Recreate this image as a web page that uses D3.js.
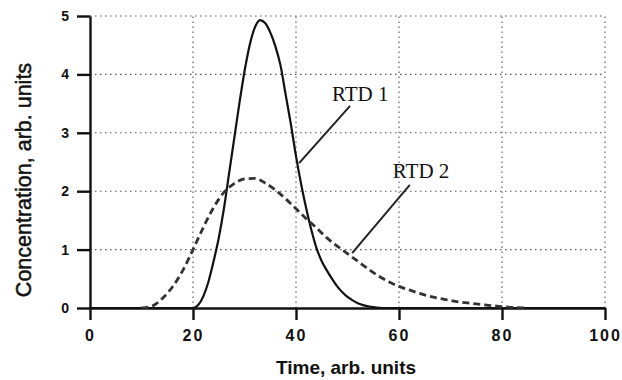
<!DOCTYPE html>
<html>
<head>
<meta charset="utf-8">
<script src="https://cdn.jsdelivr.net/npm/d3@7/dist/d3.min.js"></script>
<style>
  html, body { margin: 0; padding: 0; background: #fff; }
  svg { display: block; }
</style>
</head>
<body>
<svg id="chart" width="622" height="380"></svg>
<script>
// ---- data ----
const xTicks = [0, 20, 40, 60, 80, 100];
const yTicks = [0, 1, 2, 3, 4, 5];
const xLabel = "Time, arb. units";
const yLabel = "Concentration, arb. units";

const rtd1X = [0, 20, 21, 22, 23, 24, 25, 26, 27, 28, 29, 30, 31, 32, 33, 34, 35, 36, 37, 38, 39, 40, 41, 42, 43, 44, 45, 46, 47, 48, 49, 50, 51, 52, 53, 54, 55, 57, 100];
const rtd1Y = [0, 0, 0.05, 0.2, 0.45, 0.8, 1.2, 1.7, 2.3, 2.9, 3.5, 4.05, 4.5, 4.8, 4.93, 4.88, 4.72, 4.48, 4.15, 3.65, 3.15, 2.6, 2.12, 1.7, 1.33, 1.02, 0.8, 0.64, 0.5, 0.37, 0.27, 0.19, 0.13, 0.08, 0.05, 0.03, 0.015, 0, 0];

const rtd2X = [10, 12, 14, 16, 18, 20, 22, 24, 26, 28, 30, 32, 34, 36, 38, 40, 42, 44, 46, 48, 50, 52, 54, 56, 58, 60, 62, 64, 66, 68, 70, 72, 74, 76, 78, 80, 82, 85, 100];
const rtd2Y = [0, 0.03, 0.16, 0.36, 0.64, 1.0, 1.38, 1.72, 1.98, 2.13, 2.21, 2.22, 2.14, 2.02, 1.87, 1.7, 1.53, 1.37, 1.2, 1.06, 0.93, 0.8, 0.67, 0.55, 0.45, 0.37, 0.31, 0.25, 0.2, 0.16, 0.13, 0.1, 0.08, 0.06, 0.04, 0.025, 0.01, 0, 0];

const seriesNames = ["RTD 1", "RTD 2"];
// label anchor (data units) and leader line start / end (data units)
const labelPos = [[47, 3.54], [58.8, 2.23]];
const leaderFrom = [[50.5, 3.46], [62.1, 2.11]];
const leaderTo = [[40.6, 2.48], [50.9, 0.94]];

// ---- drawing ----
const svg = d3.select("#chart");
const x = d3.scaleLinear().domain([0, 100]).range([90, 605]);
const y = d3.scaleLinear().domain([0, 5]).range([308, 16]);

// grid
const grid = svg.append("g").attr("stroke", "#555").attr("stroke-width", 1.1)
  .attr("stroke-dasharray", "1.5,3.5").attr("fill", "none");
grid.selectAll("line.h").data(yTicks.filter(d => d > 0)).enter().append("line")
  .attr("x1", x(0)).attr("x2", x(100)).attr("y1", d => y(d)).attr("y2", d => y(d));
grid.selectAll("line.v").data(xTicks.filter(d => d > 0)).enter().append("line")
  .attr("y1", y(0)).attr("y2", y(5)).attr("x1", d => x(d)).attr("x2", d => x(d));

// axes
const xAxis = svg.append("g").attr("transform", `translate(0,${y(0)})`)
  .call(d3.axisBottom(x).tickValues(xTicks).tickFormat(d3.format("d"))
    .tickSize(12).tickPadding(10).tickSizeOuter(0));
const yAxis = svg.append("g").attr("transform", `translate(${x(0)},0)`)
  .call(d3.axisLeft(y).tickValues(yTicks).tickFormat(d3.format("d"))
    .tickSize(13).tickPadding(8).tickSizeOuter(0));
[xAxis, yAxis].forEach(a => {
  a.select(".domain").attr("stroke", "#111").attr("stroke-width", 2.4);
  a.selectAll(".tick line").attr("stroke", "#111").attr("stroke-width", 2.4);
  a.selectAll(".tick text").attr("fill", "#111")
    .attr("font-family", "'Liberation Sans', Arial, sans-serif").attr("font-weight", "bold");
});
xAxis.selectAll(".tick text").attr("font-size", 16).attr("letter-spacing", "2px");
yAxis.selectAll(".tick text").attr("font-size", 14);

// axis titles
svg.append("text").attr("x", 346).attr("y", 374).attr("text-anchor", "middle")
  .attr("font-family", "'Liberation Sans', Arial, sans-serif").attr("font-size", 19)
  .attr("font-weight", "bold").attr("fill", "#111").text(xLabel);
svg.append("text").attr("transform", "translate(31,180) rotate(-90)").attr("text-anchor", "middle")
  .attr("font-family", "'Liberation Sans', Arial, sans-serif").attr("font-size", 21.5)
  .attr("fill", "#111").attr("stroke", "#111").attr("stroke-width", 0.5).text(yLabel);

// curves
const line = d3.line().x(d => x(d[0])).y(d => y(d[1])).curve(d3.curveMonotoneX);
svg.append("path").datum(rtd1X.map((v, i) => [v, rtd1Y[i]]))
  .attr("d", line).attr("fill", "none").attr("stroke", "#111").attr("stroke-width", 2.2);
svg.append("path").datum(rtd2X.map((v, i) => [v, rtd2Y[i]]).filter(d => d[0] <= 90))
  .attr("d", line).attr("fill", "none").attr("stroke", "#333").attr("stroke-width", 2.8)
  .attr("stroke-dasharray", "7,4");

// labels + leaders
seriesNames.forEach((name, i) => {
  svg.append("text").attr("x", x(labelPos[i][0])).attr("y", y(labelPos[i][1]))
    .attr("font-family", "'Liberation Serif', 'Times New Roman', serif").attr("font-size", 21)
    .attr("fill", "#111").text(name);
  svg.append("line").attr("x1", x(leaderFrom[i][0])).attr("y1", y(leaderFrom[i][1]))
    .attr("x2", x(leaderTo[i][0])).attr("y2", y(leaderTo[i][1]))
    .attr("stroke", "#222").attr("stroke-width", 2);
});
</script>
</body>
</html>
